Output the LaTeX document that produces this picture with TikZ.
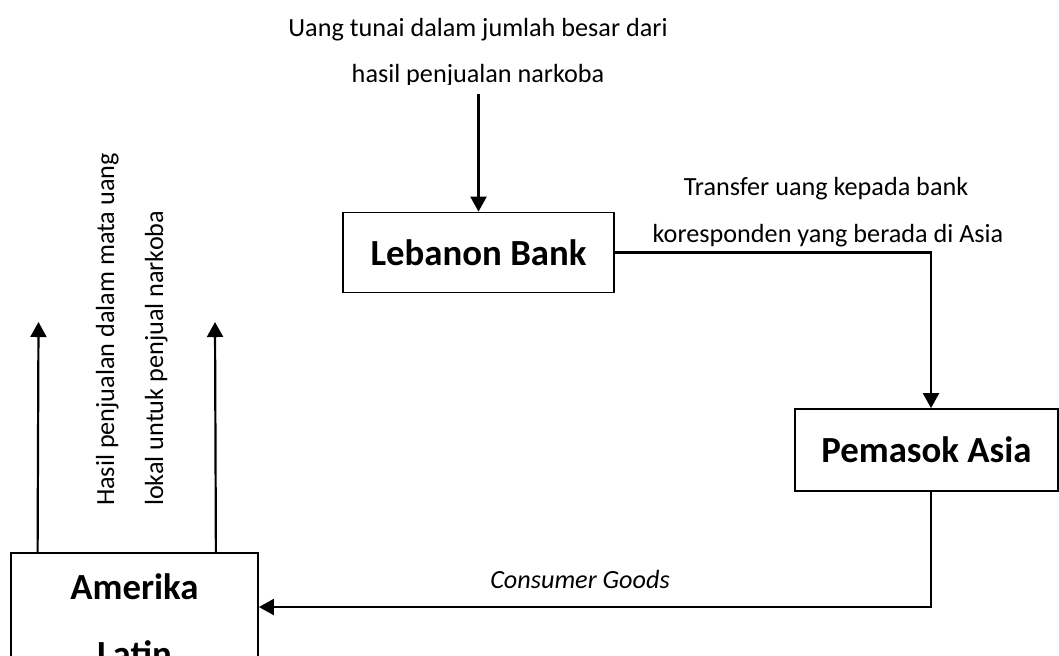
\documentclass[tikz,border=0pt]{standalone}
\usepackage{fontspec}
\setmainfont{Carlito}
\usepackage{tikz}
\usetikzlibrary{arrows.meta,calc}

\begin{document}
\begin{tikzpicture}[x=0.5pt,y=-0.5pt,>={Triangle[width=8pt,length=7.5pt]},
                    line width=1.1pt]
  \tikzstyle{box}=[draw,rectangle,line width=0.9pt,inner sep=0pt,
                   font=\fontsize{18.4}{33.5}\selectfont\bfseries]
  \tikzstyle{lbl}=[inner sep=0pt,anchor=base,font=\fontsize{13.1}{15}\selectfont]

  \useasboundingbox (0,0) rectangle (1059,655);
  \clip (0,0) rectangle (1059,655);

  \node[box,minimum width=135.5pt,minimum height=40pt] (bank) at (478.5,252.5) {Lebanon Bank};
  \node[box,minimum width=131.5pt,minimum height=41pt] (asia) at (926.5,450) {Pemasok Asia};
  \node[box,minimum width=123.5pt,anchor=north,align=center,inner ysep=10.5pt]
        (amerika) at (134.5,552) {Amerika\\Latin};

  \coordinate (src)  at (478.5,94);
  \coordinate (outL) at (38.5,322);
  \coordinate (outR) at (215,322);

  % labels
  \begin{scope}
    \clip (240,0) rectangle (720,84);
    \node[lbl] (uang1) at (478,36) {Uang tunai dalam jumlah besar dari};
    \node[lbl] (uang2) at (478,82) {hasil penjualan narkoba};
  \end{scope}
  \node[lbl] (trf1) at (826,195) {Transfer uang kepada bank};
  \node[lbl] (trf2) at (828,242) {koresponden yang berada di Asia};
  \node[lbl,font=\fontsize{13.1}{15}\selectfont\itshape] (goods) at (580,588) {Consumer Goods};
  \node[lbl,rotate=90,anchor=base west] (hasil1) at (114,507) {Hasil penjualan dalam mata uang};
  \node[lbl,rotate=90,anchor=base west] (hasil2) at (163,507) {lokal untuk penjual narkoba};

  % flows
  \draw[->] (src) -- (bank.north);
  \draw[->] (bank.east) -| ([xshift=2.25pt]asia.north);
  \draw[->] ([xshift=2.25pt]asia.south) |- ([yshift=-27.5pt]amerika.north east);
  \draw[->] ([xshift=13.75pt]amerika.north west) -- (outL);
  \draw[->] ([xshift=-21.5pt]amerika.north east) -- (outR);
\end{tikzpicture}
\end{document}
